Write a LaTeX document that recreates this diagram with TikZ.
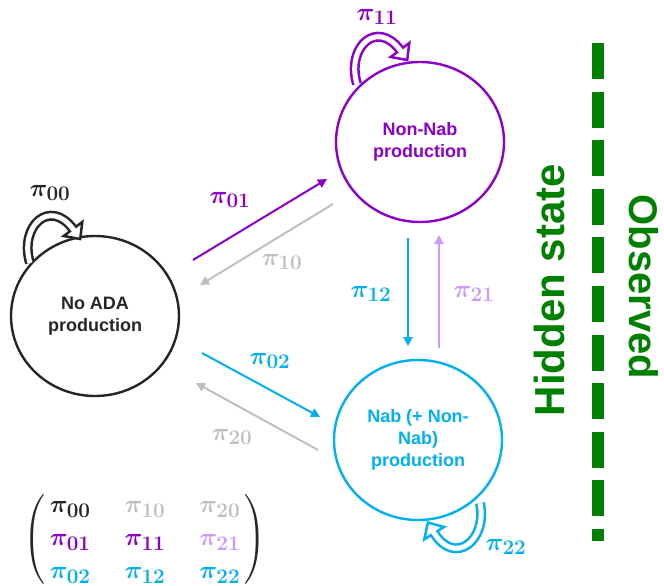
\documentclass[tikz,border=0pt]{standalone}
\usepackage{amsmath}
\usepackage{bm}
\usepackage{fontspec}
\newfontfamily\arialf{Liberation Sans}
\usetikzlibrary{arrows.meta,calc,shapes.geometric}
\definecolor{cblack}{RGB}{38,38,38}
\definecolor{cpurple}{RGB}{140,0,200}
\definecolor{clpurple}{RGB}{204,153,255}
\definecolor{cblue}{RGB}{0,176,240}
\definecolor{cgray}{RGB}{191,191,191}
\definecolor{cgreen}{RGB}{0,128,0}
\newcommand{\mypi}[1]{\bm{\pi}_{\bm{#1}}}
\tikzset{
  hstate/.style={ellipse, line width=2.4pt, minimum width=168pt, minimum height=160pt, inner sep=0pt},
  stext/.style={align=center, font=\arialf\bfseries\fontsize{18}{22}\selectfont},
  lab/.style={font=\fontsize{28}{30}\selectfont, inner sep=0pt},
  conn/.style={line width=2pt, -{Triangle[length=9pt,width=9pt]}},
  loopband/.style={line width=2.5pt, double=white, double distance=5pt},
  loophead/.style={line width=2.5pt, fill=white, line join=miter},
  side/.style={font=\arialf\bfseries, text=cgreen, inner sep=0pt}
}
\begin{document}
\begin{tikzpicture}[x=1pt, y=-1pt]
\useasboundingbox (0,0) rectangle (664,586);
% states
\node[hstate, draw=cblack] (s0) at (95,316) {};
\node[hstate, draw=cpurple] (s1) at (420,142) {};
\node[hstate, draw=cblue] (s2) at (418,440) {};
\node[stext, text=cblack] (t0) at (s0.center) {No ADA\\production};
\node[stext, text=cpurple] (t1) at (s1.center) {Non-Nab\\production};
\node[stext, text=cblue] (t2) at (s2.center) {Nab (+ Non-\\Nab)\\production};
% self loops
\foreach \col/\bx/\by/\rot [count=\i from 0] in {cblack/30/263/0, cpurple/357/84/0, cblue/480/503/175}{
  \begin{scope}[shift={(\bx,\by)}, rotate=\rot, shift={(-30,-263)}]
    \coordinate (lb\i) at (30,263);
    \coordinate (lm\i) at (73,229);
    \draw[loopband, draw=\col] (lb\i) .. controls (19,226) and (50,198) .. (lm\i);
    \draw[loophead, draw=\col] (82.3,222) -- (80.2,239) -- (63.7,236) -- cycle;
    \draw[white, line width=5pt] (71.8,227.4) -- (74.2,230.6);
  \end{scope}
}
% connector end points
\coordinate (a01s) at (193,260); \coordinate (a01e) at (327,179);
\coordinate (a10s) at (333,204); \coordinate (a10e) at (200,285);
\coordinate (a02s) at (202,353); \coordinate (a02e) at (320,417);
\coordinate (a20s) at (318,450); \coordinate (a20e) at (196,383);
\coordinate (a12s) at (408,238); \coordinate (a12e) at (408,346);
\coordinate (a21s) at (439,348); \coordinate (a21e) at (439,235);
\draw[conn, cpurple] (a01s) -- (a01e);
\draw[conn, cgray] (a10s) -- (a10e);
\draw[conn, cblue] (a02s) -- (a02e);
\draw[conn, cgray] (a20s) -- (a20e);
\draw[conn, cblue] (a12s) -- (a12e);
\draw[conn, clpurple] (a21s) -- (a21e);
% labels
\node[lab, text=cblack] (l00) at (50,193) {$\mypi{00}$};
\node[lab, text=cpurple] (l11) at (377,17) {$\mypi{11}$};
\node[lab, text=cblue] (l22) at (506,547) {$\mypi{22}$};
\node[lab, text=cpurple] (l01) at (230,200) {$\mypi{01}$};
\node[lab, text=cgray] (l10) at (282,262) {$\mypi{10}$};
\node[lab, text=cblue] (l02) at (270,361) {$\mypi{02}$};
\node[lab, text=cgray] (l20) at (232,437) {$\mypi{20}$};
\node[lab, text=cblue] (l12) at (371,294) {$\mypi{12}$};
\node[lab, text=clpurple] (l21) at (474,294) {$\mypi{21}$};
% matrix
\node[lab, text=cblack] (mat) at (145,539) {\setlength{\arraycolsep}{17pt}\renewcommand{\arraystretch}{1.1}%
\delimiterfactor=850 \delimitershortfall=14pt
$\left(\begin{array}{@{\,}ccc@{\,}}
\color{cblack}\mypi{00} & \color{cgray}\mypi{10} & \color{cgray}\mypi{20}\\
\color{cpurple}\mypi{01} & \color{cpurple}\mypi{11} & \color{clpurple}\mypi{21}\\
\color{cblue}\mypi{02} & \color{cblue}\mypi{12} & \color{cblue}\mypi{22}
\end{array}\right)$};
% divider
\coordinate (dtop) at (598,43); \coordinate (dbot) at (598,541);
\draw[cgreen, line width=12pt, dash pattern=on 36pt off 12.6pt] (dtop) -- (dbot);
\node[side, rotate=90, font=\arialf\bfseries\fontsize{42}{48}\selectfont] (hid) at (549,290) {Hidden state};
\node[side, rotate=-90, font=\arialf\bfseries\fontsize{40}{48}\selectfont] (obs) at (644,287) {Observed};
\end{tikzpicture}
\end{document}
